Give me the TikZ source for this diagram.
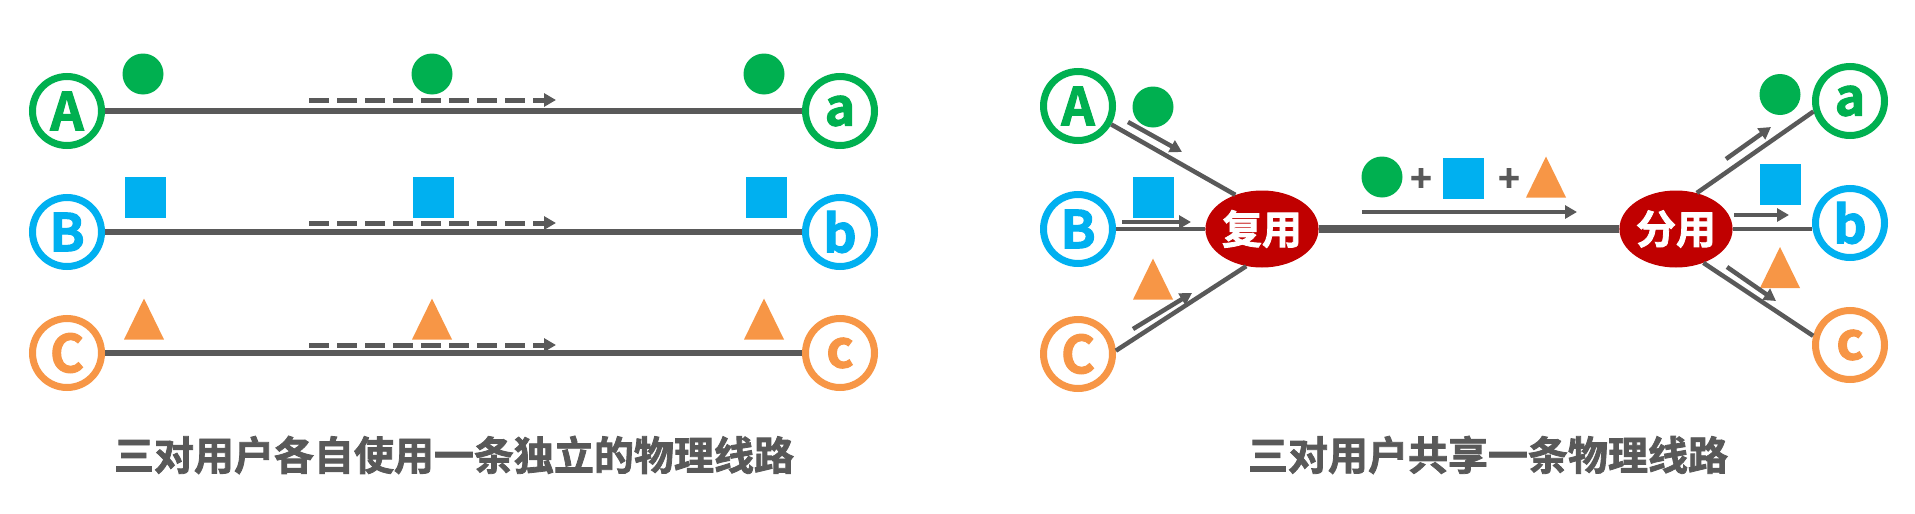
\documentclass[tikz,border=0pt]{standalone}
\usepackage{fontspec}
\setmainfont{Noto Sans CJK SC}[BoldFont={Noto Sans CJK SC Bold},BoldFeatures={FakeBold=2}]
\usetikzlibrary{arrows.meta,shapes.geometric,calc}
\definecolor{cgreen}{HTML}{00B050}
\definecolor{cblue}{HTML}{00B0F0}
\definecolor{corange}{HTML}{F79646}
\definecolor{cred}{HTML}{C00000}
\definecolor{cgray}{HTML}{595959}
\tikzset{
  user/.style={circle, draw=#1, line width=7pt, minimum size=69pt, inner sep=0pt,
    text=#1, fill=white, font=\fontsize{52}{52}\selectfont\bfseries},
  mux/.style={ellipse, fill=cred, minimum width=108pt, minimum height=77pt, inner sep=0pt,
    text=white, font=\fontsize{40}{40}\selectfont\bfseries},
  wire/.style={draw=cgray, line width=6pt},
  thinwire/.style={draw=cgray, line width=4.5pt},
  trunk/.style={draw=cgray, line width=8pt},
  flow/.style={draw=cgray, line width=4.5pt, -{Triangle[length=12pt,width=13pt]}},
  dashflow/.style={flow, line width=5pt, dash pattern=on 20pt off 8pt},
  captiontext/.style={text=cgray, font=\fontsize{40}{40}\selectfont\bfseries, inner sep=0pt},
  plussign/.style={text=cgray, font=\fontsize{36}{36}\selectfont\bfseries, inner sep=0pt},
  gdot/.pic={\fill[cgreen] (0,0) circle [radius=20.5pt];},
  bsq/.pic={\fill[cblue] (-20.5,-20.5) rectangle (20.5,20.5);},
  otri/.pic={\fill[corange] (-20,20.5) -- (0,-20.5) -- (20,20.5) -- cycle;}
}
\begin{document}
\begin{tikzpicture}[x=1pt,y=-1pt]
\useasboundingbox (0,0) rectangle (1915,514);
% ---------- left panel ----------
\node[user=cgreen]  (A1) at (67,111) {A};
\node[user=cblue]   (B1) at (67,232) {B};
\node[user=corange] (C1) at (67,353) {C};
\node[user=cgreen]  (a1) at (840,111) {a};
\node[user=cblue]   (b1) at (840,232) {b};
\node[user=corange] (c1) at (840,353) {c};
\draw[wire] (A1) -- (a1);
\draw[wire] (B1) -- (b1);
\draw[wire] (C1) -- (c1);
\pic at (143,74) {gdot};
\pic at (432,74) {gdot};
\pic at (764,74) {gdot};
\pic at (145,197) {bsq};
\pic at (433,197) {bsq};
\pic at (766,197) {bsq};
\pic at (144,319) {otri};
\pic at (432,319) {otri};
\pic at (764,319) {otri};
\coordinate (d1s) at (309,100); \coordinate (d1e) at (556,100);
\coordinate (d2s) at (309,223); \coordinate (d2e) at (556,223);
\coordinate (d3s) at (309,345); \coordinate (d3e) at (556,345);
\draw[dashflow] (d1s) -- (d1e);
\draw[dashflow] (d2s) -- (d2e);
\draw[dashflow] (d3s) -- (d3e);
\node[captiontext] (t1) at (454,455) {三对用户各自使用一条独立的物理线路};
% ---------- right panel ----------
\node[user=cgreen]  (A2) at (1078,106) {A};
\node[user=cblue]   (B2) at (1078,229) {B};
\node[user=corange] (C2) at (1078,354) {C};
\node[user=cgreen]  (a2) at (1850,101) {a};
\node[user=cblue]   (b2) at (1850,223) {b};
\node[user=corange] (c2) at (1850,345) {c};
\node[mux] (M) at (1262,229) {复用};
\node[mux] (D) at (1676,229) {分用};
\draw[thinwire] (A2.-29) -- (M.128);
\draw[thinwire] (B2.east |- M.west) -- (M.west);
\draw[thinwire] (C2.5) -- (M.247);
\draw[trunk] (M) -- (D);
\draw[thinwire] (D.60) -- (a2.196);
\draw[thinwire] (D.east) -- (D.east -| b2.west);
\draw[thinwire] (D.-51) -- (c2.166);
\pic at (1153,107) {gdot};
\pic at (1153,197) {bsq};
\pic at (1153,279) {otri};
\pic at (1780,94.5) {gdot};
\pic at (1780,184.5) {bsq};
\pic at (1780,267.5) {otri};
\pic at (1382,177) {gdot};
\node[plussign] (p1) at (1421,180) {+};
\pic at (1463,178) {bsq};
\node[plussign] (p2) at (1509,180) {+};
\pic at (1546,177) {otri};
\coordinate (fa1) at (1128,122); \coordinate (fa2) at (1182,152);
\coordinate (fb1) at (1122,222); \coordinate (fb2) at (1191,222);
\coordinate (fc1) at (1133,329); \coordinate (fc2) at (1192,293);
\coordinate (fm1) at (1362,212); \coordinate (fm2) at (1577,212);
\coordinate (ga1) at (1726,159); \coordinate (ga2) at (1771,127);
\coordinate (gb1) at (1734,215); \coordinate (gb2) at (1789,215);
\coordinate (gc1) at (1727,267); \coordinate (gc2) at (1776,301);
\draw[flow] (fa1) -- (fa2);
\draw[flow] (fb1) -- (fb2);
\draw[flow] (fc1) -- (fc2);
\draw[flow] (fm1) -- (fm2);
\draw[flow] (ga1) -- (ga2);
\draw[flow] (gb1) -- (gb2);
\draw[flow] (gc1) -- (gc2);
\node[captiontext] (t2) at (1488,455) {三对用户共享一条物理线路};
\end{tikzpicture}
\end{document}
